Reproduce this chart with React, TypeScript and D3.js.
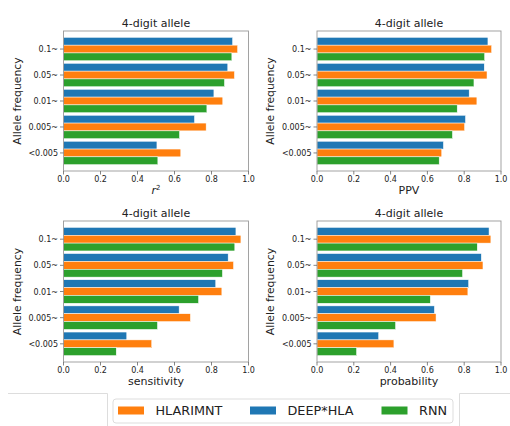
import React from 'react'
import * as d3 from 'd3'

const categories = ['0.1~', '0.05~', '0.01~', '0.005~', '<0.005']
const seriesNames = ['DEEP*HLA', 'HLARIMNT', 'RNN']
const legendOrder = ['HLARIMNT', 'DEEP*HLA', 'RNN']
const colors: Record<string, string> = { 'DEEP*HLA': '#1f77b4', HLARIMNT: '#ff7f0e', RNN: '#2ca02c' }

// values per metric, order follows categories
const r2Deep = [0.914, 0.888, 0.813, 0.708, 0.505]
const r2Hlarimnt = [0.941, 0.924, 0.861, 0.771, 0.634]
const r2Rnn = [0.91, 0.87, 0.775, 0.627, 0.51]

const ppvDeep = [0.929, 0.909, 0.827, 0.807, 0.687]
const ppvHlarimnt = [0.949, 0.924, 0.869, 0.802, 0.678]
const ppvRnn = [0.911, 0.853, 0.762, 0.736, 0.664]

const sensDeep = [0.932, 0.89, 0.823, 0.625, 0.342]
const sensHlarimnt = [0.959, 0.919, 0.856, 0.686, 0.477]
const sensRnn = [0.926, 0.859, 0.73, 0.508, 0.285]

const probDeep = [0.935, 0.893, 0.824, 0.638, 0.335]
const probHlarimnt = [0.945, 0.902, 0.82, 0.647, 0.418]
const probRnn = [0.871, 0.791, 0.616, 0.427, 0.215]

const xTicks = [0, 0.2, 0.4, 0.6, 0.8, 1.0]
const font = 'DejaVu Sans, sans-serif'

type PanelProps = {
  left: number
  top: number
  width: number
  height: number
  label: React.ReactNode
  values: number[][]
}

function Panel({ left, top, width, height, label, values }: PanelProps) {
  const x = d3.scaleLinear().domain([0, 1]).range([left, left + width])
  const y = d3.scaleLinear().domain([-0.695, 4.695]).range([top, top + height])
  const barH = y(0.3) - y(0)
  return (
    <g>
      <text x={left + width / 2} y={top - 4} textAnchor="middle" fontSize={11} fill="#222">4-digit allele</text>
      {seriesNames.map((s, si) => (
        <g key={s}>
          {categories.map((c, ci) => (
            <rect
              key={c}
              x={x(0)}
              y={y(ci + (si - 1) * 0.3 - 0.15)}
              width={x(values[si][ci]) - x(0)}
              height={barH}
              fill={colors[s]}
              stroke="#fff"
              strokeWidth={0.5}
            />
          ))}
        </g>
      ))}
      <rect x={left} y={top} width={width} height={height} fill="none" stroke="#999" strokeWidth={0.9} />
      {categories.map((c, ci) => (
        <g key={c}>
          <line x1={left - 3.5} x2={left} y1={y(ci)} y2={y(ci)} stroke="#666" strokeWidth={0.8} />
          <text x={left - 5.5} y={y(ci) + 3} textAnchor="end" fontSize={8} fill="#222">{c}</text>
        </g>
      ))}
      {xTicks.map(t => (
        <g key={t}>
          <line x1={x(t)} x2={x(t)} y1={top + height} y2={top + height + 3.5} stroke="#666" strokeWidth={0.8} />
          <text x={x(t)} y={top + height + 10.5} textAnchor="middle" fontSize={8} fill="#222">{d3.format('.1f')(t)}</text>
        </g>
      ))}
      <text x={left + width / 2} y={top + height + 23} textAnchor="middle" fontSize={11} fill="#222">{label}</text>
      <text
        transform={`translate(${left - 43},${top + height / 2}) rotate(-90)`}
        textAnchor="middle"
        fontSize={10.8}
        fill="#222"
      >Allele frequency</text>
    </g>
  )
}

export default function App() {
  const legendX = [118, 250, 381.5]
  return (
    <svg width={510} height={426} style={{ display: 'block', position: 'absolute', left: 0, top: 0 }} fontFamily={font}>
      <rect width={510} height={426} fill="#fff" />
      <Panel left={63.5} top={31} width={185} height={140}
        label={<tspan><tspan fontStyle="italic">r</tspan><tspan dy={-4} fontSize={7}>2</tspan></tspan>}
        values={[r2Deep, r2Hlarimnt, r2Rnn]} />
      <Panel left={317} top={31} width={184} height={140} label="PPV"
        values={[ppvDeep, ppvHlarimnt, ppvRnn]} />
      <Panel left={63.5} top={221} width={185} height={141} label="sensitivity"
        values={[sensDeep, sensHlarimnt, sensRnn]} />
      <Panel left={317} top={221} width={184} height={141} label="probability"
        values={[probDeep, probHlarimnt, probRnn]} />
      <polyline points="8,393.5 107.5,393.5 107.5,426" fill="none" stroke="#ddd" strokeWidth={1} />
      <polyline points="459.5,426 459.5,393.5 510,393.5" fill="none" stroke="#ddd" strokeWidth={1} />
      <rect x={113} y={399} width={340} height={24} rx={3} fill="#fff" stroke="#ddd" strokeWidth={1} />
      {legendOrder.map((s, i) => (
        <g key={s}>
          <rect x={legendX[i]} y={406.5} width={26} height={8} fill={colors[s]} />
          <text x={legendX[i] + 37.5} y={415} fontSize={12.8} fill="#222">{s}</text>
        </g>
      ))}
    </svg>
  )
}
